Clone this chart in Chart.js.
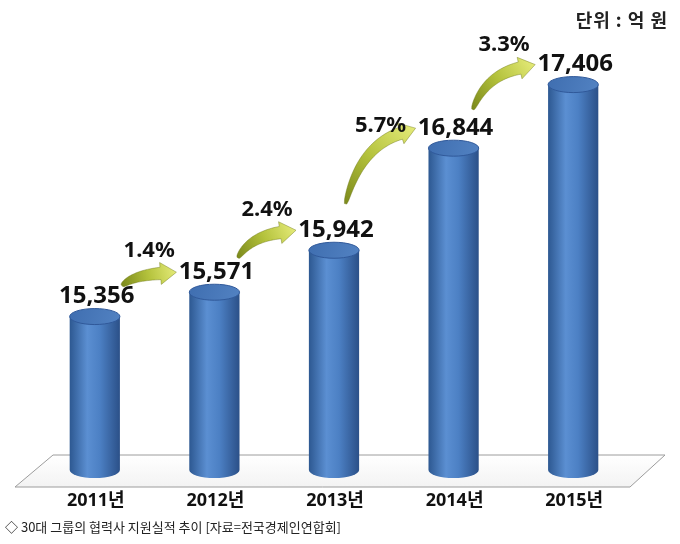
<!DOCTYPE html>
<html>
<head>
<meta charset="utf-8">
<script src="https://cdn.jsdelivr.net/npm/chart.js@4"></script>
<style>
  html, body { margin: 0; padding: 0; background: #fff; }
</style>
</head>
<body>
<canvas id="chart" width="680" height="544"></canvas>
<script>
// data
var years = ['2011년', '2012년', '2013년', '2014년', '2015년'];
var values = [15356, 15571, 15942, 16844, 17406];
var valueLabels = ['15,356', '15,571', '15,942', '16,844', '17,406'];
var growth = ['1.4%', '2.4%', '5.7%', '3.3%'];
var unitText = '단위 : 억 원';
var caption = '◇ 30대 그룹의 협력사 지원실적 추이 [자료=전국경제인연합회]';

var numFont = "bold 24px 'Noto Sans', 'Noto Sans CJK KR', sans-serif";
var pctFont = "bold 22px 'Noto Sans', 'Noto Sans CJK KR', sans-serif";
var yearFont = "bold 18px 'Noto Sans', 'Noto Sans CJK KR', sans-serif";

function drawFloor(ctx, ca) {
  var yb = ca.bottom + 17, yt = ca.bottom - 15;
  ctx.save();
  ctx.beginPath();
  ctx.moveTo(ca.left - 20, yb);
  ctx.lineTo(ca.right - 3, yb);
  ctx.lineTo(ca.right + 32, yt);
  ctx.lineTo(ca.left + 18, yt);
  ctx.closePath();
  var g = ctx.createLinearGradient(0, yt, 0, yb);
  g.addColorStop(0, '#ffffff');
  g.addColorStop(1, '#f3f3f3');
  ctx.fillStyle = g;
  ctx.fill();
  ctx.strokeStyle = '#9c9c9c';
  ctx.lineWidth = 1;
  ctx.stroke();
  ctx.restore();
}

function drawCylinder(ctx, x, top, base, w) {
  var r = w / 2, ry = 8;
  ctx.save();
  // body
  var g = ctx.createLinearGradient(x - r, 0, x + r, 0);
  g.addColorStop(0, '#2d5891');
  g.addColorStop(0.35, '#5b8fd2');
  g.addColorStop(0.6, '#4c80c4');
  g.addColorStop(1, '#2b5088');
  ctx.beginPath();
  ctx.moveTo(x - r, top);
  ctx.lineTo(x - r, base);
  ctx.ellipse(x, base, r, ry, 0, Math.PI, 0, true);
  ctx.lineTo(x + r, top);
  ctx.closePath();
  ctx.fillStyle = g;
  ctx.fill();
  // top
  var gt = ctx.createLinearGradient(x - r, top - ry, x + r, top + ry);
  gt.addColorStop(0, '#3f6eb0');
  gt.addColorStop(1, '#5282c2');
  ctx.beginPath();
  ctx.ellipse(x, top, r, ry, 0, 0, Math.PI * 2);
  ctx.fillStyle = gt;
  ctx.fill();
  ctx.strokeStyle = '#30599a';
  ctx.lineWidth = 1;
  ctx.stroke();
  ctx.restore();
}

function qpt(p0, p1, p2, t) {
  var u = 1 - t;
  return { x: u * u * p0.x + 2 * u * t * p1.x + t * t * p2.x,
           y: u * u * p0.y + 2 * u * t * p1.y + t * t * p2.y };
}

function drawArrow(ctx, tail, tip) {
  var dx = tip.x - tail.x, dy = tail.y - tip.y;
  var c = { x: tail.x + 0.2 * dx, y: tip.y + 0.25 * dy };
  var len = Math.hypot(tip.x - c.x, tip.y - c.y);
  var dir = { x: (tip.x - c.x) / len, y: (tip.y - c.y) / len };
  var headL = 16, headW = 11;
  var b = { x: tip.x - dir.x * headL, y: tip.y - dir.y * headL };
  var left = [], right = [], n = 30, i;
  for (i = 0; i <= n; i++) {
    var t = i / n;
    var p = qpt(tail, c, b, t);
    var tx = 2 * (1 - t) * (c.x - tail.x) + 2 * t * (b.x - c.x);
    var ty = 2 * (1 - t) * (c.y - tail.y) + 2 * t * (b.y - c.y);
    var tl = Math.hypot(tx, ty) || 1;
    var nx = -ty / tl, ny = tx / tl;
    var hw = 1.2 + 5 * Math.sqrt(t);
    left.push({ x: p.x + nx * hw, y: p.y + ny * hw });
    right.push({ x: p.x - nx * hw, y: p.y - ny * hw });
  }
  var nbx = -dir.y, nby = dir.x;
  ctx.save();
  ctx.beginPath();
  ctx.moveTo(left[0].x, left[0].y);
  for (i = 1; i < left.length; i++) ctx.lineTo(left[i].x, left[i].y);
  ctx.lineTo(b.x + nbx * headW, b.y + nby * headW);
  ctx.lineTo(tip.x, tip.y);
  ctx.lineTo(b.x - nbx * headW, b.y - nby * headW);
  for (i = right.length - 1; i >= 0; i--) ctx.lineTo(right[i].x, right[i].y);
  ctx.closePath();
  var g = ctx.createLinearGradient(tail.x, tail.y, tip.x, tip.y);
  g.addColorStop(0, '#7c8a1c');
  g.addColorStop(0.5, '#b4c23c');
  g.addColorStop(1, '#e4ea78');
  ctx.fillStyle = g;
  ctx.fill();
  ctx.strokeStyle = 'rgba(110,120,25,0.55)';
  ctx.lineWidth = 0.8;
  ctx.stroke();
  ctx.restore();
}

var cylinderPlugin = {
  id: 'cylinders',
  beforeDatasetsDraw: function(chart) {
    drawFloor(chart.ctx, chart.chartArea);
  },
  afterDatasetsDraw: function(chart) {
    var ctx = chart.ctx, ca = chart.chartArea;
    var yScale = chart.scales.y;
    var base = yScale.getPixelForValue(yScale.min);
    var bars = chart.getDatasetMeta(0).data;
    var labelY = [];
    bars.forEach(function(el, i) {
      drawCylinder(ctx, el.x, el.y, base, el.width);
      labelY.push(el.y - 20);
    });
    ctx.save();
    ctx.fillStyle = '#111';
    ctx.textAlign = 'center';
    ctx.textBaseline = 'middle';
    // value labels
    ctx.font = numFont;
    bars.forEach(function(el, i) {
      ctx.fillText(valueLabels[i], el.x + 2, labelY[i]);
    });
    // growth arrows
    for (var i = 0; i < growth.length; i++) {
      var drop = labelY[i] - labelY[i + 1];
      var tail = { x: bars[i].x + 32 - 0.2 * drop, y: labelY[i] - 6 - 0.2 * drop };
      var tip = { x: bars[i + 1].x - 38, y: labelY[i + 1] };
      drawArrow(ctx, tail, tip);
      ctx.font = pctFont;
      ctx.fillStyle = '#111';
      ctx.fillText(growth[i], (tail.x + tip.x) / 2,
        tip.y - 21 + 0.45 * Math.max(0, drop - 60));
    }
    // category labels
    ctx.font = yearFont;
    bars.forEach(function(el, i) {
      ctx.fillText(years[i], el.x + 1, ca.bottom + 31);
    });
    ctx.restore();
  },
  afterDraw: function(chart) {
    var ctx = chart.ctx;
    ctx.save();
    ctx.fillStyle = '#222';
    ctx.textBaseline = 'middle';
    ctx.textAlign = 'right';
    ctx.letterSpacing = '1px';
    ctx.font = "bold 18px 'Noto Sans CJK KR', sans-serif";
    ctx.fillText(unitText, 668, 20);
    ctx.letterSpacing = '0px';
    ctx.textAlign = 'left';
    ctx.font = "13px 'Noto Sans CJK KR', sans-serif";
    ctx.fillText(caption, 5, 527);
    ctx.restore();
  }
};

new Chart(document.getElementById('chart').getContext('2d'), {
  type: 'bar',
  data: {
    labels: years,
    datasets: [{
      label: '협력사 지원실적',
      data: values,
      backgroundColor: 'rgba(0,0,0,0)',
      borderWidth: 0,
      categoryPercentage: 1,
      barPercentage: 0.42
    }]
  },
  options: {
    responsive: false,
    animation: false,
    devicePixelRatio: 1,
    layout: { padding: { top: 40, bottom: 74, left: 35, right: 47 } },
    plugins: { legend: { display: false }, tooltip: { enabled: false } },
    scales: {
      x: { display: false, offset: true },
      y: { display: false, min: 14000, max: 17800 }
    }
  },
  plugins: [cylinderPlugin]
});
</script>
</body>
</html>
